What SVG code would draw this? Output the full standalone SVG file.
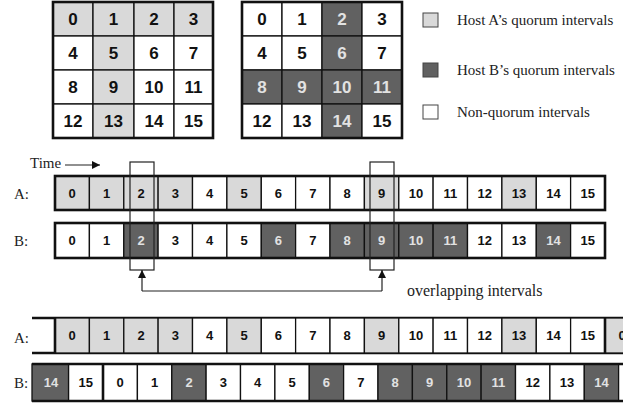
<svg xmlns="http://www.w3.org/2000/svg" width="623" height="405" viewBox="0 0 623 405">
<defs>
<style>
.c{stroke:#111;stroke-width:1.3}
.lt{fill:#d9d9d9}
.dk{fill:#616161}
.wh{fill:#fff}
.gn{font-family:"Liberation Sans",Arial,sans-serif;font-weight:bold;font-size:17px;text-anchor:middle;dominant-baseline:central;fill:#111}
.tn{font-family:"Liberation Sans",Arial,sans-serif;font-weight:bold;font-size:13px;text-anchor:middle;dominant-baseline:central;fill:#111}
.wt{fill:#e2e2e2}
.sf{font-family:"Liberation Serif","Times New Roman",serif;font-size:15px;fill:#222}
.ob{fill:none;stroke:#111;stroke-width:2.6}
.ln{fill:none;stroke:#222;stroke-width:1.2}
</style>
<marker id="ah" viewBox="0 0 10 10" refX="10" refY="5" markerWidth="8" markerHeight="8" orient="auto" markerUnits="userSpaceOnUse">
<path d="M0,0 L10,5 L0,10 z" fill="#111"/>
</marker>
</defs>
<rect width="623" height="405" fill="#fff"/>

<g id="gridA">
<rect class="c lt" x="53" y="2" width="40" height="34"/><text class="gn" x="73" y="19">0</text>
<rect class="c lt" x="93" y="2" width="41" height="34"/><text class="gn" x="113.5" y="19">1</text>
<rect class="c lt" x="134" y="2" width="40" height="34"/><text class="gn" x="154" y="19">2</text>
<rect class="c lt" x="174" y="2" width="39" height="34"/><text class="gn" x="193.5" y="19">3</text>
<rect class="c wh" x="53" y="36" width="40" height="34"/><text class="gn" x="73" y="53">4</text>
<rect class="c lt" x="93" y="36" width="41" height="34"/><text class="gn" x="113.5" y="53">5</text>
<rect class="c wh" x="134" y="36" width="40" height="34"/><text class="gn" x="154" y="53">6</text>
<rect class="c wh" x="174" y="36" width="39" height="34"/><text class="gn" x="193.5" y="53">7</text>
<rect class="c wh" x="53" y="70" width="40" height="34"/><text class="gn" x="73" y="87">8</text>
<rect class="c lt" x="93" y="70" width="41" height="34"/><text class="gn" x="113.5" y="87">9</text>
<rect class="c wh" x="134" y="70" width="40" height="34"/><text class="gn" x="154" y="87">10</text>
<rect class="c wh" x="174" y="70" width="39" height="34"/><text class="gn" x="193.5" y="87">11</text>
<rect class="c wh" x="53" y="104" width="40" height="34"/><text class="gn" x="73" y="121">12</text>
<rect class="c lt" x="93" y="104" width="41" height="34"/><text class="gn" x="113.5" y="121">13</text>
<rect class="c wh" x="134" y="104" width="40" height="34"/><text class="gn" x="154" y="121">14</text>
<rect class="c wh" x="174" y="104" width="39" height="34"/><text class="gn" x="193.5" y="121">15</text>
<rect class="ob" x="53" y="2" width="160" height="136"/>
</g>

<g id="gridB">
<rect class="c wh" x="242" y="2" width="40" height="34"/><text class="gn" x="262" y="19">0</text>
<rect class="c wh" x="282" y="2" width="40" height="34"/><text class="gn" x="302" y="19">1</text>
<rect class="c dk" x="322" y="2" width="40" height="34"/><text class="gn wt" x="342" y="19">2</text>
<rect class="c wh" x="362" y="2" width="40" height="34"/><text class="gn" x="382" y="19">3</text>
<rect class="c wh" x="242" y="36" width="40" height="34"/><text class="gn" x="262" y="53">4</text>
<rect class="c wh" x="282" y="36" width="40" height="34"/><text class="gn" x="302" y="53">5</text>
<rect class="c dk" x="322" y="36" width="40" height="34"/><text class="gn wt" x="342" y="53">6</text>
<rect class="c wh" x="362" y="36" width="40" height="34"/><text class="gn" x="382" y="53">7</text>
<rect class="c dk" x="242" y="70" width="40" height="34"/><text class="gn wt" x="262" y="87">8</text>
<rect class="c dk" x="282" y="70" width="40" height="34"/><text class="gn wt" x="302" y="87">9</text>
<rect class="c dk" x="322" y="70" width="40" height="34"/><text class="gn wt" x="342" y="87">10</text>
<rect class="c dk" x="362" y="70" width="40" height="34"/><text class="gn wt" x="382" y="87">11</text>
<rect class="c wh" x="242" y="104" width="40" height="34"/><text class="gn" x="262" y="121">12</text>
<rect class="c wh" x="282" y="104" width="40" height="34"/><text class="gn" x="302" y="121">13</text>
<rect class="c dk" x="322" y="104" width="40" height="34"/><text class="gn wt" x="342" y="121">14</text>
<rect class="c wh" x="362" y="104" width="40" height="34"/><text class="gn" x="382" y="121">15</text>
<rect class="ob" x="242" y="2" width="160" height="136"/>
</g>

<g id="legend">
<rect x="423" y="13" width="15" height="14" fill="#d9d9d9" stroke="#444" stroke-width="1"/>
<text class="sf" x="457" y="25">Host A’s quorum intervals</text>
<rect x="423" y="63" width="15" height="14" fill="#616161" stroke="#444" stroke-width="1"/>
<text class="sf" x="457" y="75">Host B’s quorum intervals</text>
<rect x="423" y="105" width="15" height="14" fill="#fff" stroke="#444" stroke-width="1"/>
<text class="sf" x="457" y="117">Non-quorum intervals</text>
</g>

<g id="time">
<text class="sf" x="30" y="168">Time</text>
</g>

<g id="rowA1">
<text class="sf" x="14" y="199">A:</text>
<rect class="c lt" x="55" y="176" width="34.4" height="34"/><text class="tn" x="72.2" y="193">0</text>
<rect class="c lt" x="89.4" y="176" width="34.4" height="34"/><text class="tn" x="106.6" y="193">1</text>
<rect class="c lt" x="123.8" y="176" width="34.4" height="34"/><text class="tn" x="141" y="193">2</text>
<rect class="c lt" x="158.1" y="176" width="34.4" height="34"/><text class="tn" x="175.3" y="193">3</text>
<rect class="c wh" x="192.5" y="176" width="34.4" height="34"/><text class="tn" x="209.7" y="193">4</text>
<rect class="c lt" x="226.9" y="176" width="34.4" height="34"/><text class="tn" x="244.1" y="193">5</text>
<rect class="c wh" x="261.3" y="176" width="34.4" height="34"/><text class="tn" x="278.4" y="193">6</text>
<rect class="c wh" x="295.6" y="176" width="34.4" height="34"/><text class="tn" x="312.8" y="193">7</text>
<rect class="c wh" x="330" y="176" width="34.4" height="34"/><text class="tn" x="347.2" y="193">8</text>
<rect class="c lt" x="364.4" y="176" width="34.4" height="34"/><text class="tn" x="381.6" y="193">9</text>
<rect class="c wh" x="398.8" y="176" width="34.4" height="34"/><text class="tn" x="415.9" y="193">10</text>
<rect class="c wh" x="433.1" y="176" width="34.4" height="34"/><text class="tn" x="450.3" y="193">11</text>
<rect class="c wh" x="467.5" y="176" width="34.4" height="34"/><text class="tn" x="484.7" y="193">12</text>
<rect class="c lt" x="501.9" y="176" width="34.4" height="34"/><text class="tn" x="519.1" y="193">13</text>
<rect class="c wh" x="536.3" y="176" width="34.4" height="34"/><text class="tn" x="553.4" y="193">14</text>
<rect class="c wh" x="570.6" y="176" width="34.4" height="34"/><text class="tn" x="587.8" y="193">15</text>
<rect class="ob" x="55" y="176" width="550" height="34"/>
</g>

<g id="rowB1">
<text class="sf" x="14" y="246">B:</text>
<rect class="c wh" x="55" y="223" width="34.4" height="35"/><text class="tn" x="72.2" y="240.5">0</text>
<rect class="c wh" x="89.4" y="223" width="34.4" height="35"/><text class="tn" x="106.6" y="240.5">1</text>
<rect class="c dk" x="123.8" y="223" width="34.4" height="35"/><text class="tn wt" x="141" y="240.5">2</text>
<rect class="c wh" x="158.1" y="223" width="34.4" height="35"/><text class="tn" x="175.3" y="240.5">3</text>
<rect class="c wh" x="192.5" y="223" width="34.4" height="35"/><text class="tn" x="209.7" y="240.5">4</text>
<rect class="c wh" x="226.9" y="223" width="34.4" height="35"/><text class="tn" x="244.1" y="240.5">5</text>
<rect class="c dk" x="261.3" y="223" width="34.4" height="35"/><text class="tn wt" x="278.4" y="240.5">6</text>
<rect class="c wh" x="295.6" y="223" width="34.4" height="35"/><text class="tn" x="312.8" y="240.5">7</text>
<rect class="c dk" x="330" y="223" width="34.4" height="35"/><text class="tn wt" x="347.2" y="240.5">8</text>
<rect class="c dk" x="364.4" y="223" width="34.4" height="35"/><text class="tn wt" x="381.6" y="240.5">9</text>
<rect class="c dk" x="398.8" y="223" width="34.4" height="35"/><text class="tn wt" x="415.9" y="240.5">10</text>
<rect class="c dk" x="433.1" y="223" width="34.4" height="35"/><text class="tn wt" x="450.3" y="240.5">11</text>
<rect class="c wh" x="467.5" y="223" width="34.4" height="35"/><text class="tn" x="484.7" y="240.5">12</text>
<rect class="c wh" x="501.9" y="223" width="34.4" height="35"/><text class="tn" x="519.1" y="240.5">13</text>
<rect class="c dk" x="536.3" y="223" width="34.4" height="35"/><text class="tn wt" x="553.4" y="240.5">14</text>
<rect class="c wh" x="570.6" y="223" width="34.4" height="35"/><text class="tn" x="587.8" y="240.5">15</text>
<rect class="ob" x="55" y="223" width="550" height="35"/>
</g>

<g id="rowA2">
<text class="sf" x="14" y="343">A:</text>
<line x1="32" y1="318" x2="623" y2="318" class="ob"/>
<line x1="32" y1="353" x2="623" y2="353" class="ob"/>
<rect class="c lt" x="55" y="318" width="34.4" height="35"/><text class="tn" x="72.2" y="335.5">0</text>
<rect class="c lt" x="89.4" y="318" width="34.4" height="35"/><text class="tn" x="106.6" y="335.5">1</text>
<rect class="c lt" x="123.8" y="318" width="34.4" height="35"/><text class="tn" x="141" y="335.5">2</text>
<rect class="c lt" x="158.1" y="318" width="34.4" height="35"/><text class="tn" x="175.3" y="335.5">3</text>
<rect class="c wh" x="192.5" y="318" width="34.4" height="35"/><text class="tn" x="209.7" y="335.5">4</text>
<rect class="c lt" x="226.9" y="318" width="34.4" height="35"/><text class="tn" x="244.1" y="335.5">5</text>
<rect class="c wh" x="261.3" y="318" width="34.4" height="35"/><text class="tn" x="278.4" y="335.5">6</text>
<rect class="c wh" x="295.6" y="318" width="34.4" height="35"/><text class="tn" x="312.8" y="335.5">7</text>
<rect class="c wh" x="330" y="318" width="34.4" height="35"/><text class="tn" x="347.2" y="335.5">8</text>
<rect class="c lt" x="364.4" y="318" width="34.4" height="35"/><text class="tn" x="381.6" y="335.5">9</text>
<rect class="c wh" x="398.8" y="318" width="34.4" height="35"/><text class="tn" x="415.9" y="335.5">10</text>
<rect class="c wh" x="433.1" y="318" width="34.4" height="35"/><text class="tn" x="450.3" y="335.5">11</text>
<rect class="c wh" x="467.5" y="318" width="34.4" height="35"/><text class="tn" x="484.7" y="335.5">12</text>
<rect class="c lt" x="501.9" y="318" width="34.4" height="35"/><text class="tn" x="519.1" y="335.5">13</text>
<rect class="c wh" x="536.3" y="318" width="34.4" height="35"/><text class="tn" x="553.4" y="335.5">14</text>
<rect class="c wh" x="570.6" y="318" width="34.4" height="35"/><text class="tn" x="587.8" y="335.5">15</text>
<rect class="c lt" x="605" y="318" width="34.4" height="35"/><text class="tn" x="622.2" y="335.5">0</text>
<line x1="55" y1="318" x2="55" y2="353" class="ob"/>
<line x1="605" y1="318" x2="605" y2="353" class="ob"/>
</g>

<g id="rowB2">
<text class="sf" x="14" y="388">B:</text>
<rect class="c dk" x="32" y="364" width="36.6" height="37"/><text class="tn wt" x="51" y="382.5">14</text>
<rect class="c wh" x="68.6" y="364" width="34.4" height="37"/><text class="tn" x="85.8" y="382.5">15</text>
<rect class="c wh" x="103" y="364" width="34.4" height="37"/><text class="tn" x="120.2" y="382.5">0</text>
<rect class="c wh" x="137.4" y="364" width="34.4" height="37"/><text class="tn" x="154.6" y="382.5">1</text>
<rect class="c dk" x="171.8" y="364" width="34.4" height="37"/><text class="tn wt" x="189" y="382.5">2</text>
<rect class="c wh" x="206.1" y="364" width="34.4" height="37"/><text class="tn" x="223.3" y="382.5">3</text>
<rect class="c wh" x="240.5" y="364" width="34.4" height="37"/><text class="tn" x="257.7" y="382.5">4</text>
<rect class="c wh" x="274.9" y="364" width="34.4" height="37"/><text class="tn" x="292.1" y="382.5">5</text>
<rect class="c dk" x="309.3" y="364" width="34.4" height="37"/><text class="tn wt" x="326.4" y="382.5">6</text>
<rect class="c wh" x="343.6" y="364" width="34.4" height="37"/><text class="tn" x="360.8" y="382.5">7</text>
<rect class="c dk" x="378" y="364" width="34.4" height="37"/><text class="tn wt" x="395.2" y="382.5">8</text>
<rect class="c dk" x="412.4" y="364" width="34.4" height="37"/><text class="tn wt" x="429.6" y="382.5">9</text>
<rect class="c dk" x="446.8" y="364" width="34.4" height="37"/><text class="tn wt" x="463.9" y="382.5">10</text>
<rect class="c dk" x="481.1" y="364" width="34.4" height="37"/><text class="tn wt" x="498.3" y="382.5">11</text>
<rect class="c wh" x="515.5" y="364" width="34.4" height="37"/><text class="tn" x="532.7" y="382.5">12</text>
<rect class="c wh" x="549.9" y="364" width="34.4" height="37"/><text class="tn" x="567.1" y="382.5">13</text>
<rect class="c dk" x="584.3" y="364" width="34.4" height="37"/><text class="tn wt" x="601.4" y="382.5">14</text>
<rect class="c wh" x="618.6" y="364" width="34.4" height="37"/>
<line x1="32" y1="364" x2="623" y2="364" class="ob"/>
<line x1="32" y1="401" x2="623" y2="401" class="ob"/>
<line x1="103" y1="364" x2="103" y2="401" class="ob"/>
</g>

<g id="connectors">
<line class="ln" x1="65" y1="165" x2="100" y2="165" marker-end="url(#ah)"/>
<rect class="ln" x="130" y="162" width="24" height="108" stroke-width="1"/>
<rect class="ln" x="370" y="162" width="24" height="108" stroke-width="1"/>
<polyline class="ln" points="142,291 382,291"/>
<line class="ln" x1="142" y1="291" x2="142" y2="270" marker-end="url(#ah)"/>
<line class="ln" x1="382" y1="291" x2="382" y2="270" marker-end="url(#ah)"/>
<text class="sf" x="407" y="296" style="font-size:16px">overlapping intervals</text>
</g>
</svg>
